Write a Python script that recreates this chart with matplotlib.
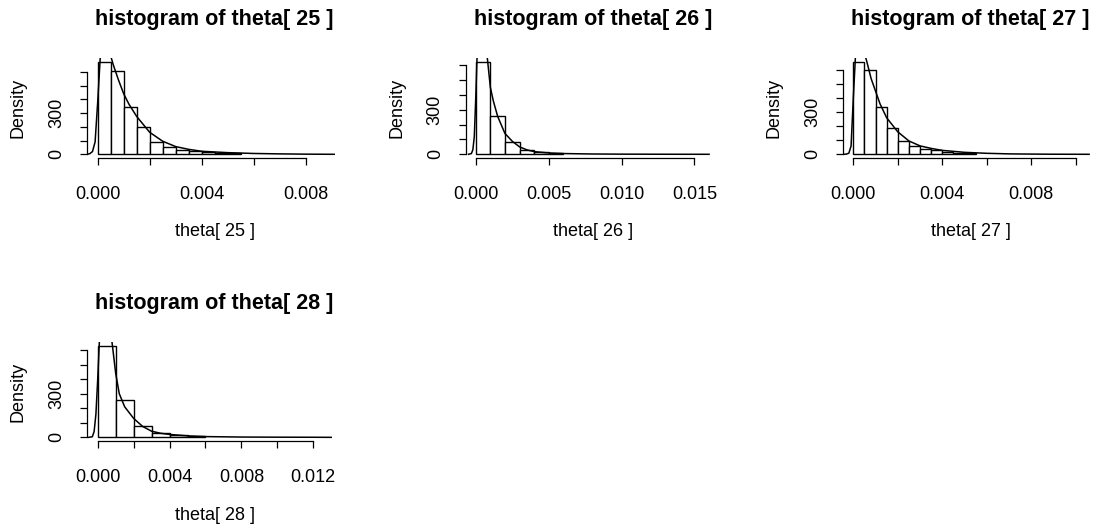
import numpy as np
import matplotlib
matplotlib.use('Agg')
import matplotlib.pyplot as plt
from matplotlib.ticker import FixedLocator, FixedFormatter

plt.rcParams['font.family'] = ['Liberation Sans', 'DejaVu Sans']

W, H = 1102, 531

# --- data ---
labels = ['theta[ 25 ]', 'theta[ 26 ]', 'theta[ 27 ]', 'theta[ 28 ]']

# histogram densities (freq=FALSE), bins start at 0
bin_w_25 = 0.0005
hist_25 = [673, 605, 341, 195, 92, 56, 31, 24, 15, 12, 8]
bin_w_26 = 0.001
hist_26 = [622, 254, 85, 29, 15, 10]
bin_w_27 = 0.0005
hist_27 = [660, 600, 337, 187, 95, 60, 38, 30, 18, 12, 8]
bin_w_28 = 0.001
hist_28 = [630, 257, 80, 27, 16, 11]

# kernel density lines (peak is clipped in the picture, estimated)
dens_x_25 = [-0.0004, -0.0003, -0.0002, -0.0001, 0.0, 0.0001, 0.0002, 0.0003, 0.0004, 0.0005,
             0.0006, 0.0008, 0.001, 0.0012, 0.0015, 0.002, 0.0025, 0.003, 0.0035, 0.004,
             0.005, 0.006, 0.007, 0.008, 0.0091]
dens_y_25 = [0, 5, 20, 90, 380, 710, 790, 820, 790, 715, 650, 540, 440, 365, 275, 160, 95, 56,
             36, 22, 12, 6, 3, 1, 0]
dens_x_26 = [-0.0005, -0.0003, -0.0002, -0.0001, 0.0, 0.0001, 0.0002, 0.0004, 0.0006, 0.0008,
             0.001, 0.0012, 0.0015, 0.002, 0.0025, 0.003, 0.0035, 0.004, 0.005, 0.006,
             0.008, 0.010, 0.012, 0.014, 0.0160]
dens_y_26 = [0, 5, 30, 120, 380, 690, 790, 820, 760, 640, 450, 360, 255, 140, 88, 50, 30, 18,
             9, 5, 2, 1, 0.5, 0.2, 0]
dens_x_27 = [-0.0004, -0.0003, -0.0002, -0.0001, 0.0, 0.0001, 0.0002, 0.0003, 0.0004, 0.0005,
             0.0006, 0.0008, 0.001, 0.0012, 0.0015, 0.002, 0.0025, 0.003, 0.0035, 0.004,
             0.005, 0.006, 0.007, 0.008, 0.009, 0.0106]
dens_y_27 = [0, 2, 8, 60, 400, 710, 790, 800, 770, 720, 665, 540, 450, 360, 260, 160, 95, 60,
             42, 28, 14, 7, 3, 1.5, 0.5, 0]
dens_x_28 = [-0.0005, -0.0003, -0.0002, -0.0001, 0.0, 0.0001, 0.0002, 0.0004, 0.0006, 0.0008,
             0.001, 0.0012, 0.0015, 0.002, 0.0025, 0.003, 0.0035, 0.004, 0.005, 0.006,
             0.008, 0.010, 0.012, 0.0130]
dens_y_28 = [0, 4, 40, 160, 400, 680, 790, 820, 760, 650, 440, 300, 210, 130, 75, 42, 28, 20,
             10, 5, 2, 1, 0.5, 0]

# axis ticks
y_ticks = [0, 100, 200, 300, 400, 500, 600]
y_tick_labels = ['0', '', '', '300', '', '', '']
x_ticks_25 = [0, 0.002, 0.004, 0.006, 0.008]
x_labels_25 = ['0.000', '', '0.004', '', '0.008']
x_ticks_26 = [0, 0.005, 0.010, 0.015]
x_labels_26 = ['0.000', '0.005', '0.010', '0.015']
x_ticks_27 = [0, 0.002, 0.004, 0.006, 0.008, 0.010]
x_labels_27 = ['0.000', '', '0.004', '', '0.008', '']
x_ticks_28 = [0, 0.002, 0.004, 0.006, 0.008, 0.010, 0.012]
x_labels_28 = ['0.000', '', '0.004', '', '0.008', '', '0.012']

panels = [
    (labels[0], bin_w_25, hist_25, dens_x_25, dens_y_25, x_ticks_25, x_labels_25,
     (87.3, 342, 58, 158), (-0.0004, 0.0094)),
    (labels[1], bin_w_26, hist_26, dens_x_26, dens_y_26, x_ticks_26, x_labels_26,
     (466, 720.7, 58, 158), (-0.00067, 0.0168)),
    (labels[2], bin_w_27, hist_27, dens_x_27, dens_y_27, x_ticks_27, x_labels_27,
     (843.3, 1098, 58, 158), (-0.00045, 0.0110)),
    (labels[3], bin_w_28, hist_28, dens_x_28, dens_y_28, x_ticks_28, x_labels_28,
     (87.3, 342, 342, 441), (-0.00058, 0.0136)),
]

fig = plt.figure(figsize=(W / 100, H / 100), dpi=100)

for name, bw, h, dx, dy, xt, xl, box, xlim in panels:
    l, r, t, b = box
    ax = fig.add_axes([l / W, 1 - b / H, (r - l) / W, (b - t) / H])
    edges = np.arange(len(h) + 1) * bw
    ax.bar(edges[:-1], h, width=bw, align='edge', facecolor='white',
           edgecolor='black', linewidth=1.0)
    ax.plot(dx, dy, color='black', linewidth=1.1)
    hmax = max(h)
    ax.set_ylim(-0.04 * hmax, 1.04 * hmax)
    ax.set_xlim(*xlim)

    for s in ['top', 'right']:
        ax.spines[s].set_visible(False)
    ax.spines['left'].set_bounds(y_ticks[0], y_ticks[-1])
    ax.spines['bottom'].set_bounds(xt[0], xt[-1])
    for s in ['left', 'bottom']:
        ax.spines[s].set_linewidth(0.9)

    ax.yaxis.set_major_locator(FixedLocator(y_ticks))
    ax.yaxis.set_major_formatter(FixedFormatter(y_tick_labels))
    ax.xaxis.set_major_locator(FixedLocator(xt))
    ax.xaxis.set_major_formatter(FixedFormatter(xl))
    ax.tick_params(axis='both', direction='out', length=5, width=0.9, labelsize=13)
    ax.tick_params(axis='x', pad=15)
    ax.tick_params(axis='y', pad=11, labelrotation=90)
    for lab in ax.get_yticklabels():
        lab.set_va('center')

    ax.annotate('histogram of ' + name, xy=(0.5, 1), xycoords='axes fraction',
                xytext=(0, 39), textcoords='offset pixels', ha='center', va='center',
                fontsize=15.5, fontweight='bold')
    ax.annotate(name, xy=(0.5, 0), xycoords='axes fraction',
                xytext=(0, -74), textcoords='offset pixels', ha='center', va='center',
                fontsize=13)
    ax.annotate('Density', xy=(0, 0.5), xycoords='axes fraction',
                xytext=(-69, 0), textcoords='offset pixels', ha='center', va='center',
                fontsize=13, rotation=90)

fig.savefig('out.png', dpi=100)
